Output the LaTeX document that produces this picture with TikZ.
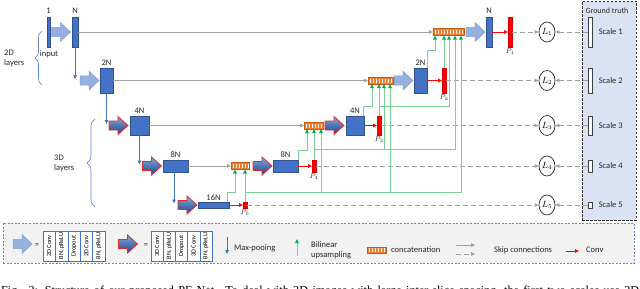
\documentclass[tikz,border=0pt]{standalone}
\usepackage{fontspec}
\setmainfont{Carlito}
\newfontfamily\capfont{Liberation Serif}
\usetikzlibrary{arrows.meta,decorations.pathreplacing,shapes.geometric,calc}
\definecolor{blk}{RGB}{68,114,196}
\definecolor{blkd}{RGB}{47,82,143}
\definecolor{lblue}{RGB}{150,177,224}
\definecolor{lblued}{RGB}{125,155,212}
\definecolor{tdtop}{RGB}{130,170,225}
\definecolor{tdbot}{RGB}{30,65,130}
\definecolor{tdred}{RGB}{230,40,40}
\definecolor{orng}{RGB}{237,125,49}
\definecolor{orngd}{RGB}{197,90,17}
\definecolor{glinec}{RGB}{120,210,150}
\definecolor{gtip}{RGB}{0,176,80}
\definecolor{skipc}{RGB}{160,160,160}
\definecolor{gtfill}{RGB}{218,227,243}
\definecolor{legfill}{RGB}{242,242,242}
\definecolor{legbord}{RGB}{110,135,180}
\definecolor{bracec}{RGB}{100,140,210}
\tikzset{
  blockn/.style={draw=blkd, fill=blk, line width=0.5pt, inner sep=0pt, outer sep=0pt},
  predn/.style={fill=red, draw=red!85!black, line width=0.3pt, inner sep=0pt, outer sep=0pt, minimum width=4},
  gtbar/.style={draw=black!75, fill=white, line width=0.6pt, inner sep=0pt, minimum width=3.5},
  lossn/.style={ellipse, draw=black!85, fill=white, line width=0.7pt, minimum width=16, minimum height=20, inner sep=0pt, font=\fontsize{9}{10}\selectfont},
  concatn/.style={draw=orngd, fill=orng, line width=0.5pt, inner sep=0pt, outer sep=0pt, minimum height=7,
    path picture={\draw[white, line width=4pt, dash pattern=on 1.5pt off 1.5pt] ([xshift=1.6pt]path picture bounding box.west) -- ([xshift=-1pt]path picture bounding box.east);}},
  lbl/.style={font=\fontsize{8.5}{10}\selectfont, inner sep=1pt, text=black!85},
  plbl/.style={font=\fontsize{7.5}{8}\selectfont, inner sep=0.5pt, text=black!85},
  smalllbl/.style={font=\fontsize{8}{9}\selectfont, inner sep=1pt, text=black!85},
  skip/.style={draw=skipc, line width=0.8pt, -{Triangle[length=4pt,width=3.5pt]}},
  dskip/.style={draw=skipc, line width=0.9pt, dash pattern=on 5pt off 3pt, -{Triangle[length=4pt,width=3.5pt]}},
  convarrow/.style={draw=red, line width=0.8pt, -{Triangle[length=4pt,width=3.5pt]}},
  poolarrow/.style={draw=blk, line width=0.8pt, -{Triangle[length=4pt,width=3.5pt]}},
  garrow/.style={draw=glinec, line width=1pt, -{Triangle[length=4pt,width=3.5pt,color=gtip]}},
  bracedec/.style={draw=bracec, line width=0.7pt, decorate, decoration={brace, amplitude=#1}},
  legcell/.style={draw=blk, fill=white, line width=0.6pt, rotate=90, minimum width=30, minimum height=12.4, inner sep=0pt, font=\fontsize{6.3}{7}\selectfont},
  pics/twodarrow/.style={code={\draw[fill=lblue, draw=lblued, line width=0.5pt] (-9.5,-4.7) -- (-0.5,-4.7) -- (-0.5,-9.5) -- (9.5,0) -- (-0.5,9.5) -- (-0.5,4.7) -- (-9.5,4.7) -- cycle;}},
  pics/threedarrow/.style={code={\draw[top color=tdtop, bottom color=tdbot, draw=tdred, line width=0.8pt] (-9.5,-4.5) -- (-0.5,-4.5) -- (-0.5,-9) -- (9.5,0) -- (-0.5,9) -- (-0.5,4.5) -- (-9.5,4.5) -- cycle;}},
}
\begin{document}
\begin{tikzpicture}[x=1pt,y=-1pt]
\useasboundingbox (0,0) rectangle (640,289);
\clip (0,0) rectangle (640,289);

% ground truth box
\node[draw=black!80, dash pattern=on 2.5pt off 1.5pt, fill=gtfill, line width=0.8pt, minimum width=54, minimum height=219, inner sep=0pt] (gtbox) at (609,110.5) {};
\node[smalllbl] at (607,11) {Ground truth};

% encoder
\node[blockn, minimum width=3.5, minimum height=30] (in) at (48.5,32) {};
\node[blockn, minimum width=6, minimum height=30] (e1) at (75,32) {};
\node[blockn, minimum width=13, minimum height=25] (e2) at (106.5,80.5) {};
\node[blockn, minimum width=19, minimum height=19] (e3) at (139.5,125.5) {};
\node[blockn, minimum width=25, minimum height=12] (e4) at (175.5,166) {};
\node[blockn, minimum width=31, minimum height=6] (e5) at (213.5,205) {};
\node[lbl, above=2pt] at (in.north) {1};
\node[lbl, above=2pt] at (e1.north) {N};
\node[lbl, above=1pt] at (e2.north) {2N};
\node[lbl, above=1pt] at (e3.north) {4N};
\node[lbl, above=1pt] at (e4.north) {8N};
\node[lbl, above=0pt] at (e5.north) {16N};
\node[lbl] at (49,54) {input};
\node[lbl, anchor=west, align=left] at (3,58) {2D\\layers};
\node[lbl, anchor=west, align=left] at (53,163) {3D\\layers};
\draw[bracedec=7pt] (42,85) -- (42,31);
\draw[bracedec=8pt] (95,207) -- (95,119);

% decoder
\node[blockn, minimum width=25, minimum height=12] (d4) at (285.5,166) {};
\node[blockn, minimum width=18, minimum height=19] (d3) at (355,125.5) {};
\node[blockn, minimum width=13, minimum height=25] (d2) at (420.5,80.5) {};
\node[blockn, minimum width=6, minimum height=30] (d1) at (489,32) {};
\node[lbl, above=1pt] at (d4.north) {8N};
\node[lbl, above=1pt] at (d3.north) {4N};
\node[lbl, above=1pt] at (d2.north) {2N};
\node[lbl, above=2pt] at (d1.north) {N};

% concatenations
\node[concatn, minimum width=18] (c4) at (240,166) {};
\node[concatn, minimum width=19] (c3) at (313.5,125.5) {};
\node[concatn, minimum width=25] (c2) at (380.5,80.5) {};
\node[concatn, minimum width=31] (c1) at (448.5,32) {};

% block arrows
\pic at (61,32) {twodarrow};
\pic at (89.5,80.5) {twodarrow};
\pic at (118.5,125.5) {threedarrow};
\pic at (152,166) {threedarrow};
\pic at (187.5,205) {threedarrow};
\pic at (262.5,166) {threedarrow};
\pic at (334.5,125.5) {threedarrow};
\pic at (403.5,80.5) {twodarrow};
\pic at (475.5,32) {twodarrow};

% predictions
\node[predn, minimum height=30] (p1) at (510,32) {};
\node[predn, minimum height=25] (p2) at (444,80.5) {};
\node[predn, minimum height=19] (p3) at (379,125.5) {};
\node[predn, minimum height=12] (p4) at (314,166) {};
\node[predn, minimum height=6] (p5) at (245,205) {};
\foreach \k in {1,...,5}{\node[plbl, below=0.5pt] at (p\k.south) {$\bar{P}_{\k}$};}

% losses and ground truth
\node[lossn] (L1) at (547,32) {$L_1$};
\node[lossn] (L2) at (547,80.5) {$L_2$};
\node[lossn] (L3) at (547,125.5) {$L_3$};
\node[lossn] (L4) at (547,166) {$L_4$};
\node[lossn] (L5) at (547,205) {$L_5$};
\node[gtbar, minimum height=30] (g1) at (590.5,32) {};
\node[gtbar, minimum height=25] (g2) at (590.5,80.5) {};
\node[gtbar, minimum height=19] (g3) at (590.5,125.5) {};
\node[gtbar, minimum height=12] (g4) at (590.5,166) {};
\node[gtbar, minimum height=6] (g5) at (590.5,205) {};
\foreach \k in {1,...,5}{\node[lbl, anchor=west] at ([xshift=5pt]g\k.east) {Scale \k};}

% max pooling
\draw[poolarrow] (e1.south) -- ([yshift=1.5pt]e1.south |- e2.center);
\draw[poolarrow] (e2.south) -- ([yshift=1.5pt]e2.south |- e3.center);
\draw[poolarrow] (e3.south) -- ([yshift=1.5pt]e3.south |- e4.center);
\draw[poolarrow] ([xshift=-1.5pt]e4.south) -- ([xshift=-1.5pt,yshift=1.5pt]e4.south |- e5.center);

% skip connections
\draw[skip] (e1.east) -- (c1.west);
\draw[skip] (e2.east) -- (c2.west);
\draw[skip] (e3.east) -- (c3.west);
\draw[skip] (e4.east) -- (c4.west);

% conv
\draw[convarrow] (d1.east) -- (p1.west);
\draw[convarrow] (d2.east) -- (p2.west);
\draw[convarrow] (d3.east) -- (p3.west);
\draw[convarrow] (d4.east) -- (p4.west);
\draw[convarrow] (e5.east) -- (p5.west);

% loss connections
\foreach \k in {1,...,5}{
  \draw[dskip] (p\k.east) -- (L\k.west);
  \draw[dskip] (g\k.west) -- (L\k.east);
}

% upsampling (green)
\coordinate (y5) at (0,192);
\coordinate (y4) at (0,149);
\coordinate (y3) at (0,106);
\draw[garrow] ([xshift=-2pt]e5.north east) -- ++(0,-10) -| ([xshift=-5pt]c4.south);
\draw[garrow] (p5.north) -- (p5.north |- c4.south);
\draw[garrow] (p5.north |- y5) -| ([xshift=12.5pt]c1.south);
\draw[garrow] ([xshift=7.5pt]c3.south |- y5) -- ([xshift=7.5pt]c3.south);
\draw[garrow] ([xshift=9.5pt]c2.south |- y5) -- ([xshift=9.5pt]c2.south);
\draw[garrow] (d4.north east) -- ++(0,-10) -| ([xshift=-6.5pt]c3.south);
\draw[garrow] (p4.north) -- (p4.north |- c3.south);
\draw[garrow] (p4.north |- y4) -| ([xshift=6.5pt]c1.south);
\draw[garrow] ([xshift=3.5pt]c2.south |- y4) -- ([xshift=3.5pt]c2.south);
\draw[garrow] ([xshift=-1pt]d3.north east) -- ++(0,-10) -| ([xshift=-8.5pt]c2.south);
\draw[garrow] (p3.north) -- (p3.north |- c2.south);
\draw[garrow] (p3.north |- y3) -| ([xshift=0.5pt]c1.south);
\draw[garrow] (d2.north east) -- ++(0,-18) -| ([xshift=-13.5pt]c1.south);
\draw[garrow] (p2.north) -- (p2.north |- c1.south);

% legend
\node[draw=legbord, dash pattern=on 2pt off 1.5pt, fill=legfill, line width=0.8pt, minimum width=631, minimum height=40, inner sep=0pt] (leg) at (318.5,243) {};
\pic at (22.5,244) {twodarrow};
\node[lbl] at (37,246) {=};
\node[legcell] (t1) at (49.2,246) {2D Conv};
\node[legcell] (t2) at (61.6,246) {BN, pReLU};
\node[legcell] (t3) at (74,246) {Dropout};
\node[legcell] (t4) at (86.4,246) {2D Conv};
\node[legcell] (t5) at (98.8,246) {BN, pReLU};
\pic at (128,244) {threedarrow};
\node[lbl] at (146,246) {=};
\node[legcell, minimum height=12.2] (u1) at (157.1,246) {3D Conv};
\node[legcell, minimum height=12.2] (u2) at (169.3,246) {BN, pReLU};
\node[legcell, minimum height=12.2] (u3) at (181.5,246) {Dropout};
\node[legcell, minimum height=12.2] (u4) at (193.7,246) {3D Conv};
\node[legcell, minimum height=12.2] (u5) at (205.9,246) {BN, pReLU};
\coordinate (lb1) at (227,237);
\coordinate (lb2) at (227,254);
\draw[poolarrow] (lb1) -- (lb2);
\node[lbl, anchor=west] at (233,248) {Max-pooing};
\coordinate (lg1) at (297,256);
\coordinate (lg2) at (297,239);
\draw[garrow] (lg1) -- (lg2);
\node[lbl, anchor=west, align=left] at (310,250) {Bilinear\\upsampling};
\node[concatn, minimum width=19, minimum height=6] (lc) at (376.5,250) {};
\node[lbl, anchor=west] at (390,250) {concatenation};
\coordinate (ls1) at (456,245);
\coordinate (ls2) at (475,245);
\draw[skip] (ls1) -- (ls2);
\coordinate (ld1) at (456,254);
\coordinate (ld2) at (475,254);
\draw[dskip] (ld1) -- (ld2);
\node[lbl, anchor=west] at (493,250) {Skip connections};
\coordinate (lr1) at (566,251);
\coordinate (lr2) at (579,251);
\draw[convarrow] (lr1) -- (lr2);
\node[lbl, anchor=west] at (585,250) {Conv};

% caption (cut off by the frame)
\node[anchor=base west, inner sep=0pt, font=\capfont\fontsize{12.2}{13}\selectfont] (cap) at (1,294) {\makebox[638pt][s]{Fig. 2: Structure of our proposed PE-Net. To deal with 3D images with large inter-slice spacing, the first two scales use 2D}};
\end{tikzpicture}
\end{document}
